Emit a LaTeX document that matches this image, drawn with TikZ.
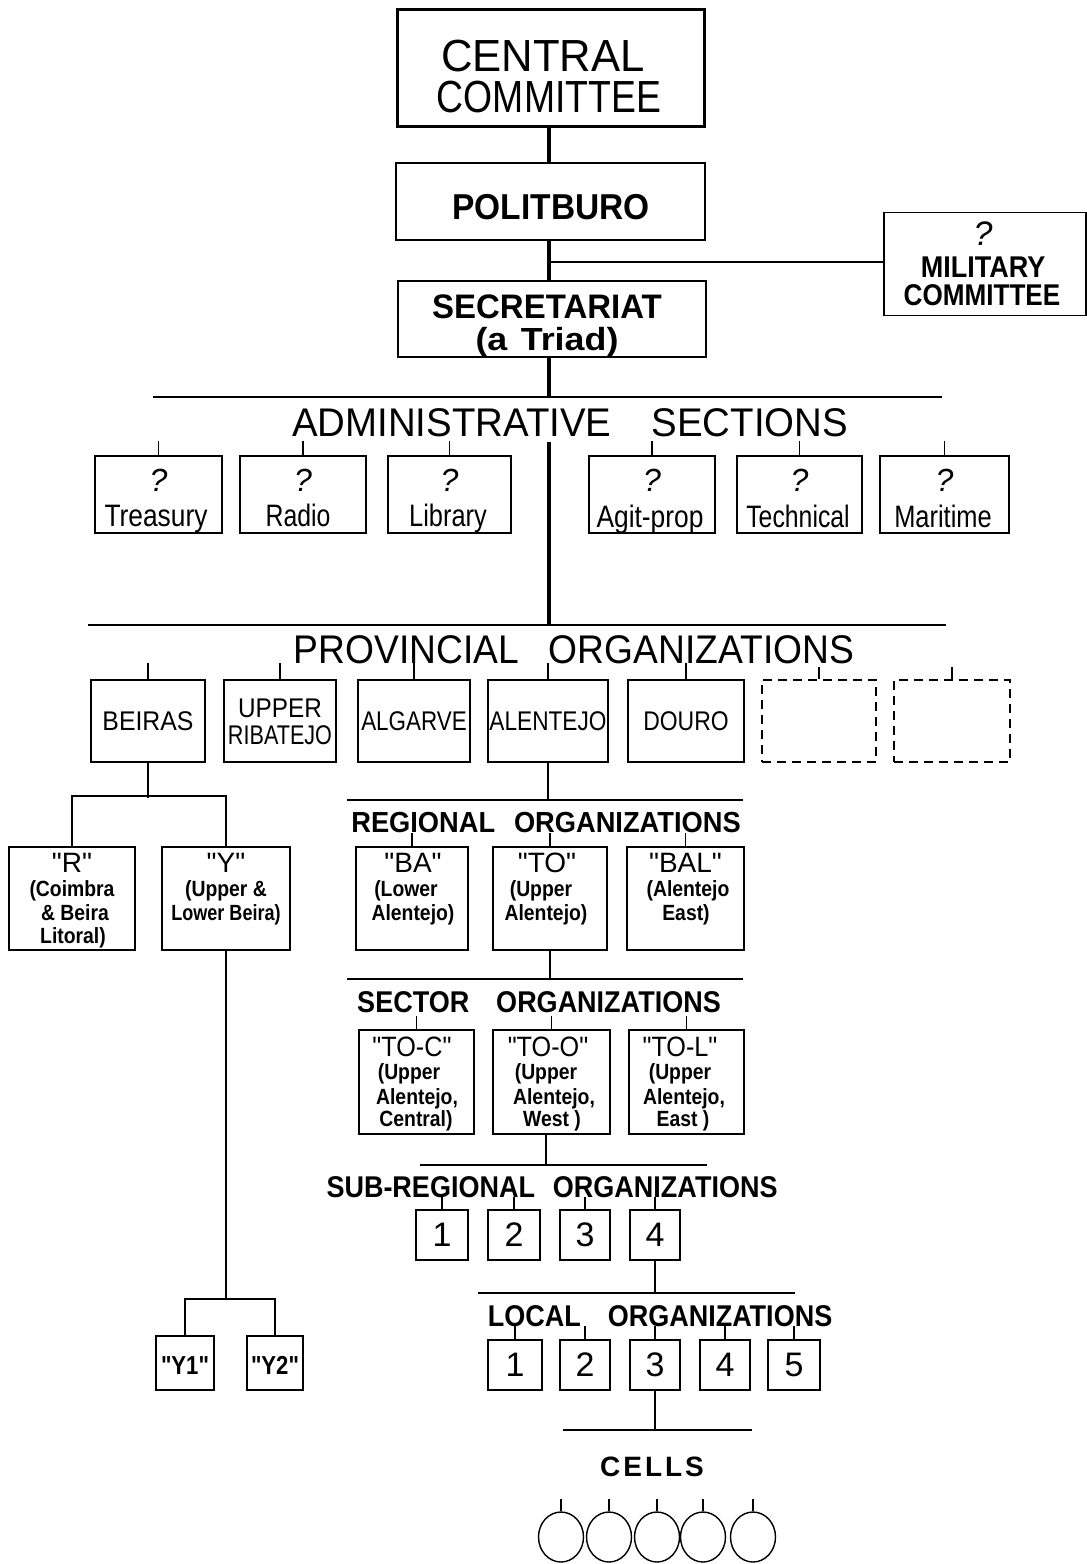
\documentclass[tikz,border=0pt]{standalone}
\usepackage{graphicx}
\usepackage{fontspec}
\setmainfont[Ligatures=TeXOff]{Liberation Sans}
\usetikzlibrary{shapes.geometric}
\newcommand\myfs[2]{\fontsize{#1}{#2}\selectfont}
\newcommand\myscx[2]{\scalebox{#1}[1]{#2}}
\begin{document}
\begin{tikzpicture}[x=1pt,y=-1pt,
  bx/.style={draw, line width=1.7pt, inner sep=0pt, align=center},
  dbx/.style={draw, line width=1.4pt, dash pattern=on 9pt off 6pt, inner sep=0pt},
  txt/.style={inner sep=0pt, anchor=base},
  ln/.style={line width=1.9pt},
  stub/.style={line width=1.3pt},
  spine/.style={line width=3.6pt},
  head/.style={txt, font=\myfs{40}{40}},
  subhead/.style={txt, font=\bfseries\myfs{30}{30}},
  adm/.style={bx, line width=1.4pt, minimum width=#1, minimum height=77},
  prv/.style={bx, minimum width=#1, minimum height=82, font=\myfs{27}{27}},
  reg/.style={bx, minimum width=#1, minimum height=103},
  sct/.style={bx, minimum width=#1, minimum height=104},
  num/.style={bx, minimum width=#1, minimum height=50, font=\myfs{34}{34}},
  qlab/.style={txt, font=\myfs{28}{28}},
  plab/.style={txt, font=\bfseries\myfs{22}{22}},
  alab/.style={txt, font=\myfs{31}{31}},
  qmark/.style={txt, font=\myfs{32}{32}},
  cellshape/.style={draw, ellipse, line width=1.4pt, minimum width=45, minimum height=50, inner sep=0pt},
]
\fill[white] (0,0) rectangle (1087,1564);
\useasboundingbox (0,0) rectangle (1087,1564);

% ---------- top ----------
\node[bx, line width=3pt, minimum width=307, minimum height=117] (cc) at (550.5,68) {};
\node[txt, font=\myfs{45}{45}, text height=32pt, text depth=0pt] (cc1) at (543,71) {\myscx{0.97}{CENTRAL}};
\node[txt, font=\myfs{45}{45}, text height=32pt, text depth=0pt] (cc2) at (549,112) {\myscx{0.83}{COMMITTEE}};
\node[bx, line width=2.6pt, minimum width=309, minimum height=77] (pb) at (550.5,201.5) {};
\node[txt, font=\bfseries\myfs{36}{36}] (pbt) at (551,219) {\myscx{0.93}{POLITBURO}};
\node[bx, line width=2.6pt, minimum width=308, minimum height=76] (sec) at (552,319) {};
\node[txt, font=\bfseries\myfs{34}{34}, text height=25pt, text depth=0pt] (sec1) at (547,318) {\myscx{0.97}{SECRETARIAT}};
\node[txt, font=\bfseries\myfs{32}{32}, text height=23pt, text depth=6pt] (sec2) at (547,350) {\myscx{1.12}{(a\hspace{12pt}Triad)}};
\node[bx, line width=1.1pt, minimum width=202, minimum height=103] (mil) at (985,264) {};
\node[txt, font=\myfs{34}{34}] (mil0) at (983,245) {\textit{?}};
\node[txt, font=\bfseries\myfs{30}{30}] (mil1) at (983,277) {\myscx{0.9}{MILITARY}};
\node[txt, font=\bfseries\myfs{30}{30}] (mil2) at (982,305) {\myscx{0.87}{COMMITTEE}};

\coordinate (sp) at (549,0);
\draw[spine] (cc.south -| sp) -- (pb.north -| sp);
\draw[spine] (pb.south -| sp) -- (sec.north -| sp);
\coordinate (mj) at (sp |- 0,262);
\draw[line width=1.4pt] (mj) -- (mj -| mil.west);

% ---------- administrative sections ----------
\coordinate (al) at (153,397);
\coordinate (ar) at (942,397);
\draw[ln] (al) -- (ar);
\draw[spine] (sec.south -| sp) -- (sp |- al);
\node[head] (ah) at (570,436) {\myscx{0.96}{ADMINISTRATIVE\hspace{42pt}SECTIONS}};
\coordinate (s1) at (549,442);
\coordinate (pl) at (88,625);
\coordinate (pr) at (946,625);
\draw[spine] (s1) -- (s1 |- pl);

\node[adm=127] (tre) at (158.5,494.5) {};
\node[adm=126] (rad) at (303,494.5) {};
\node[adm=123] (lib) at (449.5,494.5) {};
\node[adm=126] (agi) at (652,494.5) {};
\node[adm=125] (tec) at (799.5,494.5) {};
\node[adm=129] (mar) at (944.5,494.5) {};
\foreach \n in {tre,rad,lib,agi,tec,mar} {
  \draw[stub] (\n.north) -- ++(0,-14);
  \node[qmark] (\n q) at ([yshift=3pt]\n.center) {\textit{?}};
}
\node[alab] (tret) at (156,526) {\myscx{0.85}{Treasury}};
\node[alab] (radt) at (298,526) {\myscx{0.8}{Radio}};
\node[alab] (libt) at (448,526) {\myscx{0.82}{Library}};
\node[alab] (agit) at (650,527) {\myscx{0.85}{Agit-prop}};
\node[alab] (tect) at (798,527) {\myscx{0.8}{Technical}};
\node[alab] (mart) at (943,527) {\myscx{0.82}{Maritime}};

% ---------- provincial ----------
\draw[ln] (pl) -- (pr);
\node[head] (ph) at (574,663) {\myscx{0.93}{PROVINCIAL\hspace{32pt}ORGANIZATIONS}};
\node[prv=114] (bei) at (148,721) {\myscx{0.92}{BEIRAS}};
\node[prv=112] (upr) at (280,721) {};
\node[txt, font=\myfs{27}{27}] (upr1) at (280,717) {\myscx{0.9}{UPPER}};
\node[txt, font=\myfs{27}{27}] (upr2) at (280,744) {\myscx{0.8}{RIBATEJO}};
\node[prv=112] (alg) at (414,721) {\myscx{0.83}{ALGARVE}};
\node[prv=120] (ale) at (548,721) {\myscx{0.84}{ALENTEJO}};
\node[prv=116] (dou) at (686,721) {\myscx{0.85}{DOURO}};
\node[dbx, minimum width=114, minimum height=82] (d1) at (819,721) {};
\node[dbx, minimum width=116, minimum height=82] (d2) at (952,721) {};
\foreach \n in {bei,upr,alg,ale,dou} \draw[stub] (\n.north) -- ++(0,-16);
\foreach \n in {d1,d2} \draw[stub] (\n.north) -- ++(0,-12);

% ---------- Beiras branch ----------
\node[reg=126] (rr) at (72,898.5) {};
\node[reg=128] (yy) at (226,898.5) {};
\draw[ln] (bei.south) -- ++(0,35);
\draw[ln] (rr.north) -- ++(0,-50) -| (yy.north);
\node[qlab] (rrt) at (72,872) {"R"};
\node[plab] (rr1) at (72,896) {\myscx{0.88}{(Coimbra}};
\node[plab] (rr2) at (75,920) {\myscx{0.88}{\& Beira}};
\node[plab] (rr3) at (73,943) {\myscx{0.88}{Litoral)}};
\node[qlab] (yyt) at (226,872) {"Y"};
\node[plab] (yy1) at (226,896) {\myscx{0.88}{(Upper \&}};
\node[plab] (yy2) at (226,920) {\myscx{0.82}{Lower Beira)}};

\coordinate (yb) at (226,1300);
\draw[ln] (yy.south) -- (yy.south |- yb);
\node[bx, minimum width=58, minimum height=54] (y1) at (185,1363) {};
\node[bx, minimum width=56, minimum height=54] (y2) at (275,1363) {};
\node[txt, font=\bfseries\myfs{26}{26}] (y1t) at (185,1374) {\myscx{0.85}{"Y1"}};
\node[txt, font=\bfseries\myfs{26}{26}] (y2t) at (275,1374) {\myscx{0.85}{"Y2"}};
\draw[ln] (y1.north) -- ++(0,-36) -| (y2.north);

% ---------- regional ----------
\coordinate (rl) at (347,800);
\coordinate (rrr) at (743,800);
\draw[ln] (ale.south) -- (ale.south |- rl);
\draw[ln] (rl) -- (rrr);
\node[subhead, font=\bfseries\myfs{29}{29}] (rh) at (546,832) {\myscx{0.94}{REGIONAL\hspace{20pt}ORGANIZATIONS}};
\node[reg=112] (ba) at (412,898.5) {};
\node[reg=114] (to) at (550,898.5) {};
\node[reg=117] (bal) at (685.5,898.5) {};
\foreach \n in {ba,to,bal} \draw[stub] (\n.north) -- ++(0,-13);
\node[qlab] (bat) at (413,872) {"BA"};
\node[plab] (ba1) at (406,896) {\myscx{0.88}{(Lower}};
\node[plab] (ba2) at (413,920) {\myscx{0.88}{Alentejo)}};
\node[qlab] (tot) at (547,872) {"TO"};
\node[plab] (to1) at (541,896) {\myscx{0.88}{(Upper}};
\node[plab] (to2) at (546,920) {\myscx{0.88}{Alentejo)}};
\node[qlab] (balt) at (685.5,872) {"BAL"};
\node[plab] (bal1) at (688,896) {\myscx{0.88}{(Alentejo}};
\node[plab] (bal2) at (686,920) {\myscx{0.88}{East)}};

% ---------- sector ----------
\coordinate (sl) at (347,979);
\coordinate (sr) at (743,979);
\draw[ln] (to.south) -- (to.south |- sl);
\draw[ln] (sl) -- (sr);
\node[subhead] (sh) at (539,1012) {\myscx{0.9}{SECTOR\hspace{30pt}ORGANIZATIONS}};
\node[sct=115] (toc) at (416.5,1082) {};
\node[sct=117] (too) at (551.5,1082) {};
\node[sct=115] (tol) at (686.5,1082) {};
\foreach \n in {toc,too,tol} \draw[stub] (\n.north) -- ++(0,-13);
\node[qlab] (toct) at (412,1056) {\myscx{0.9}{"TO-C"}};
\node[plab] (toc1) at (409,1079) {\myscx{0.88}{(Upper}};
\node[plab] (toc2) at (417,1104) {\myscx{0.88}{Alentejo,}};
\node[plab] (toc3) at (416,1126) {\myscx{0.88}{Central)}};
\node[qlab] (toot) at (548,1056) {\myscx{0.9}{"TO-O"}};
\node[plab] (too1) at (546,1079) {\myscx{0.88}{(Upper}};
\node[plab] (too2) at (554,1104) {\myscx{0.88}{Alentejo,}};
\node[plab] (too3) at (552,1126) {\myscx{0.88}{West )}};
\node[qlab] (tolt) at (680,1056) {\myscx{0.9}{"TO-L"}};
\node[plab] (tol1) at (680,1079) {\myscx{0.88}{(Upper}};
\node[plab] (tol2) at (684,1104) {\myscx{0.88}{Alentejo,}};
\node[plab] (tol3) at (683,1126) {\myscx{0.88}{East )}};

% ---------- sub-regional ----------
\coordinate (bl) at (420,1165);
\coordinate (br) at (707,1165);
\coordinate (tj) at (546,1165);
\draw[ln] (too.south -| tj) -- (tj);
\draw[ln] (bl) -- (br);
\node[subhead] (bh) at (552,1197) {\myscx{0.9}{SUB-REGIONAL\hspace{20pt}ORGANIZATIONS}};
\node[num=52] (sa) at (442,1235) {1};
\node[num=52] (sb) at (514,1235) {2};
\node[num=50] (sc) at (585,1235) {3};
\node[num=50] (sd) at (655,1235) {4};
\foreach \n in {sa,sb,sc,sd} \draw[stub] (\n.north) -- ++(0,-12);

% ---------- local ----------
\coordinate (ll) at (478,1293);
\coordinate (lr) at (795,1293);
\draw[ln] (sd.south) -- (sd.south |- ll);
\draw[ln] (ll) -- (lr);
\node[subhead] (lh) at (660,1326) {\myscx{0.9}{LOCAL\hspace{30pt}ORGANIZATIONS}};
\node[num=54] (la) at (515,1365) {1};
\node[num=50] (lb) at (585,1365) {2};
\node[num=50] (lc) at (655,1365) {3};
\node[num=50] (ld) at (725,1365) {4};
\node[num=52] (le) at (794,1365) {5};
\foreach \n in {la,lb,lc,ld,le} \draw[stub] (\n.north) -- ++(0,-13);

% ---------- cells ----------
\coordinate (cl) at (563,1430);
\coordinate (cr) at (752,1430);
\draw[ln] (lc.south) -- (lc.south |- cl);
\draw[ln] (cl) -- (cr);
\node[subhead, font=\bfseries\myfs{28}{28}] (ch) at (652,1476) {C\hspace{3pt}E\hspace{3pt}L\hspace{3pt}L\hspace{3pt}S};
\node[cellshape] (c1) at (561,1537) {};
\node[cellshape] (c2) at (609,1537) {};
\node[cellshape] (c3) at (657,1537) {};
\node[cellshape] (c4) at (703,1537) {};
\node[cellshape] (c5) at (753,1537) {};
\foreach \n in {c1,c2,c3,c4,c5} \draw[line width=1.2pt] (\n.north) -- ++(0,-12);
\end{tikzpicture}
\end{document}
